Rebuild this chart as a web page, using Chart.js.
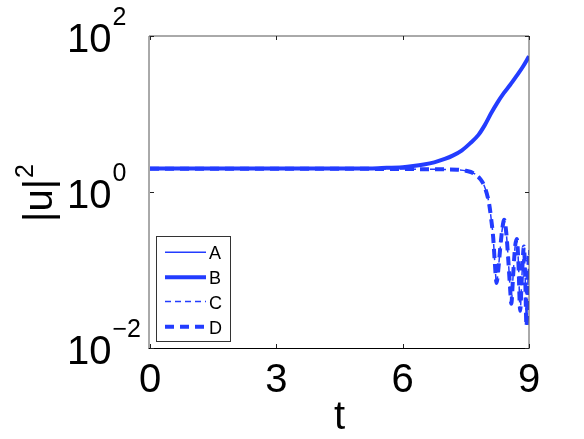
<!DOCTYPE html>
<html>
<head>
<meta charset="utf-8">
<script src="https://cdn.jsdelivr.net/npm/chart.js@4/dist/chart.umd.min.js"></script>
<style>
  html, body { margin: 0; padding: 0; background: #ffffff; }
  canvas { display: block; }
</style>
</head>
<body>
<canvas id="c" width="584" height="439"></canvas>
<script>
// ---- data ----
const seriesLabels = ["A", "B", "C", "D"];

const tGrow = [0, 1, 2, 3, 4, 5, 5.5, 6, 6.25, 6.5, 6.75, 7.0, 7.2, 7.4, 7.6, 7.8, 7.95, 8.1, 8.25, 8.4, 8.55, 8.7, 8.85, 9.0];
const uA    = [2.0, 2.0, 2.0, 2.0, 2.0, 2.0, 2.03, 2.08, 2.15, 2.25, 2.4, 2.65, 2.95, 3.4, 4.2, 5.4, 7.2, 10.2, 14, 18.5, 23.5, 30.5, 40, 55];
const uB    = [2.0, 2.0, 2.0, 2.0, 2.0, 2.0, 2.03, 2.08, 2.15, 2.25, 2.4, 2.65, 2.95, 3.4, 4.2, 5.4, 7.2, 10.2, 14, 18.5, 23.5, 30.5, 40, 55];

const tDecay = [0, 1, 2, 3, 4, 5, 6, 6.5, 7, 7.3, 7.5, 7.7, 7.85, 7.95, 8.05, 8.1, 8.15, 8.19, 8.23, 8.27, 8.32, 8.37, 8.41, 8.46, 8.51, 8.55, 8.58, 8.62, 8.67, 8.71, 8.75, 8.79, 8.83, 8.88, 8.91, 8.94, 8.97, 9.0];
const uC     = [1.98, 1.98, 1.98, 1.98, 1.98, 1.98, 1.97, 1.96, 1.95, 1.93, 1.87, 1.72, 1.45, 1.15, 0.72, 0.46, 0.26, 0.12, 0.068, 0.1, 0.2, 0.35, 0.44, 0.3, 0.13, 0.06, 0.037, 0.08, 0.2, 0.25, 0.12, 0.03, 0.08, 0.2, 0.08, 0.019, 0.06, 0.18];
const uD     = [1.98, 1.98, 1.98, 1.98, 1.98, 1.98, 1.97, 1.96, 1.95, 1.93, 1.87, 1.72, 1.45, 1.15, 0.72, 0.46, 0.26, 0.12, 0.068, 0.1, 0.2, 0.35, 0.44, 0.3, 0.13, 0.06, 0.037, 0.08, 0.2, 0.25, 0.12, 0.03, 0.08, 0.2, 0.08, 0.019, 0.06, 0.18];

const xTicks = [0, 3, 6, 9];
const yTickExps = [-2, 0, 2];
const xTitle = "t";
const yTitleBase = "|u|";
const yTitleSup = "2";

// ---- styling ----
const BLUE = "rgb(35,60,255)";
const FONT = "'Liberation Sans', Arial, Helvetica, sans-serif";

function pts(ts, us) { return ts.map((t, i) => ({ x: t, y: us[i] })); }

const styles = [
  { borderWidth: 1.5, borderDash: [],     order: 4 },
  { borderWidth: 4,   borderDash: [],     order: 3 },
  { borderWidth: 1.5, borderDash: [6, 4], order: 2 },
  { borderWidth: 4,   borderDash: [9, 6], order: 1 }
];
const dataSets = [pts(tGrow, uA), pts(tGrow, uB), pts(tDecay, uC), pts(tDecay, uD)];

const datasets = seriesLabels.map((lab, i) => ({
  label: lab,
  data: dataSets[i],
  borderColor: BLUE,
  backgroundColor: BLUE,
  borderWidth: styles[i].borderWidth,
  borderDash: styles[i].borderDash,
  order: styles[i].order,
  pointRadius: 0,
  fill: false,
  cubicInterpolationMode: "monotone"
}));

const decor = {
  id: "decor",
  afterDraw(chart) {
    const ctx = chart.ctx;
    const a = chart.chartArea;
    const xs = chart.scales.x, ys = chart.scales.y;
    ctx.save();

    // box
    ctx.lineWidth = 1;
    ctx.strokeStyle = "#555";
    ctx.beginPath();
    ctx.moveTo(a.left - 1, a.bottom);
    ctx.lineTo(a.left - 1, a.top);
    ctx.lineTo(a.right, a.top);
    ctx.lineTo(a.right, a.bottom);
    ctx.stroke();
    ctx.strokeStyle = "#000";
    ctx.beginPath();
    ctx.moveTo(a.left - 1.5, a.bottom + 0.5);
    ctx.lineTo(a.right + 0.5, a.bottom + 0.5);
    ctx.stroke();

    // inner ticks on all sides
    const TL = 4;
    ctx.strokeStyle = "#222";
    ctx.beginPath();
    xTicks.forEach(v => {
      const px = Math.round(xs.getPixelForValue(v)) + 0.5;
      ctx.moveTo(px, a.bottom); ctx.lineTo(px, a.bottom - TL);
      ctx.moveTo(px, a.top); ctx.lineTo(px, a.top + TL);
    });
    yTickExps.forEach(e => {
      const py = Math.round(ys.getPixelForValue(Math.pow(10, e))) + 0.5;
      ctx.moveTo(a.left, py); ctx.lineTo(a.left + TL, py);
      ctx.moveTo(a.right, py); ctx.lineTo(a.right - TL, py);
    });
    ctx.stroke();

    ctx.fillStyle = "#000";
    ctx.textBaseline = "alphabetic";

    // x tick labels
    ctx.font = "40px " + FONT;
    ctx.textAlign = "center";
    xTicks.forEach(v => {
      ctx.fillText(String(v), xs.getPixelForValue(v), a.bottom + 43.5);
    });

    // y tick labels 10^e
    yTickExps.forEach(e => {
      const py = ys.getPixelForValue(Math.pow(10, e));
      ctx.font = "40px " + FONT;
      ctx.textAlign = "right";
      ctx.fillText("10", 111.5, py + 16);
      ctx.font = "25px " + FONT;
      ctx.textAlign = "left";
      ctx.fillText(e < 0 ? "\u2212" + Math.abs(e) : String(e), 112.5, py - 11);
    });

    // x title
    ctx.font = "40px " + FONT;
    ctx.textAlign = "center";
    ctx.fillText(xTitle, (a.left + a.right) / 2, a.bottom + 81);

    // y title (rotated)
    ctx.save();
    ctx.translate(52, (a.top + a.bottom) / 2 + 30);
    ctx.rotate(-Math.PI / 2);
    ctx.font = "40px " + FONT;
    ctx.textAlign = "left";
    ctx.fillText(yTitleBase, 0, 0);
    const w = ctx.measureText(yTitleBase).width;
    ctx.font = "25px " + FONT;
    ctx.fillText(yTitleSup, w + 1, -19);
    ctx.restore();

    // legend box inside axes
    const bx = a.left + 6.5, by = 236.5, bw = 74, bh = 105;
    ctx.fillStyle = "#fff";
    ctx.fillRect(bx, by, bw, bh);
    ctx.strokeStyle = "#333";
    ctx.lineWidth = 1;
    ctx.strokeRect(bx, by, bw, bh);
    const rowY = [252.3, 277.3, 301.5, 326.7];
    chart.data.datasets.forEach((ds, i) => {
      const y = rowY[i];
      ctx.strokeStyle = ds.borderColor;
      ctx.lineWidth = ds.borderWidth;
      ctx.setLineDash(ds.borderDash || []);
      ctx.beginPath();
      ctx.moveTo(165, y);
      ctx.lineTo(206, y);
      ctx.stroke();
      ctx.setLineDash([]);
      ctx.fillStyle = "#000";
      ctx.font = "18px " + FONT;
      ctx.textAlign = "left";
      ctx.fillText(ds.label, 209, y + 7);
    });

    ctx.restore();
  }
};

new Chart(document.getElementById("c"), {
  type: "line",
  data: { datasets },
  options: {
    responsive: false,
    animation: false,
    devicePixelRatio: 1,
    layout: { padding: { left: 150, top: 36, right: 55, bottom: 91 } },
    plugins: { legend: { display: false }, tooltip: { enabled: false } },
    scales: {
      x: { type: "linear", min: 0, max: 9, display: false },
      y: { type: "logarithmic", min: 0.01, max: 100, display: false }
    }
  },
  plugins: [decor]
});
</script>
</body>
</html>
